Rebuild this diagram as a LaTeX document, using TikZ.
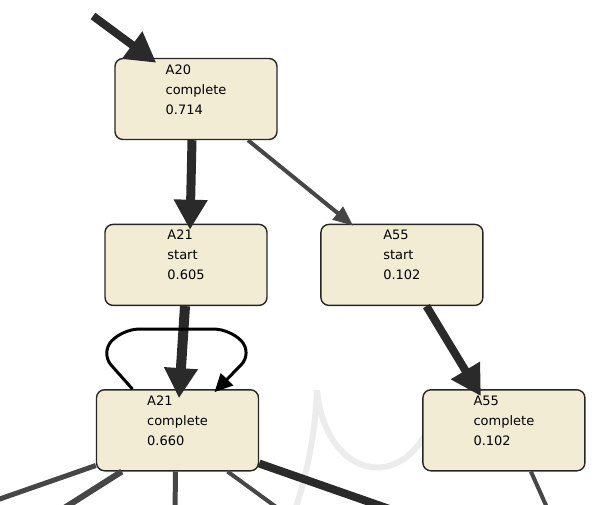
\documentclass[tikz,border=0pt]{standalone}
\usepackage{fontspec}
\newfontfamily\statefont{DejaVu Sans}
\usetikzlibrary{arrows.meta, positioning, calc}
\definecolor{statefill}{RGB}{243,236,213}
\definecolor{edgedark}{RGB}{42,42,42}
\definecolor{edgemid}{RGB}{70,70,70}
\definecolor{markgray}{RGB}{236,236,236}

\begin{document}
\begin{tikzpicture}[
    x=1pt, y=-1pt,
    node distance=83pt,
    state/.style={rectangle, rounded corners=8pt, draw=black!85, line width=1.4pt, fill=statefill, minimum width=162pt, minimum height=81pt, inner xsep=4pt, inner ysep=6.5pt, text height=49pt, text depth=19pt, align=left, text=black, font=\statefont\fontsize{13}{20}\selectfont},
    heavy/.style={-{Triangle[length=30pt, width=32pt]}, line width=9pt, draw=edgedark},
    light/.style={-{Triangle[length=20pt, width=16pt]}, line width=4pt, draw=edgemid},
    loopline/.style={-{Triangle[length=18pt, width=17pt]}, line width=3pt, draw=black, rounded corners=16pt},
    outline/.style={draw=edgemid}
]
    \useasboundingbox (0,0) rectangle (595,504);
    \clip (0,0) rectangle (595,504);

    % faint watermark in the background
    \draw[markgray, line width=6pt] (317,390) .. controls (315,440) and (305,480) .. (295,510);
    \draw[markgray, line width=6pt] (317,390) .. controls (325,480) and (410,500) .. (438,405);

    \node[state] (a20) at (196,99) {A20\\complete\\0.714};
    \node[state, below=83.5pt of a20, xshift=-10pt] (a21s) {A21\\start\\0.605};
    \node[state, right=52.5pt of a21s] (a55s) {A55\\start\\0.102};
    \node[state, below=83pt of a21s, xshift=-8.5pt] (a21c) {A21\\complete\\0.660};
    \node[state, right=163pt of a21c] (a55c) {A55\\complete\\0.102};

    \coordinate (entry) at (93,16);
    \coordinate (out1) at (-6,501);
    \coordinate (out2) at (58,512);
    \coordinate (out3) at (175,512);
    \coordinate (out4) at (283,512);
    \coordinate (out5) at (398,512);
    \coordinate (out6) at (549,512);

    \draw[heavy, line width=8pt] (entry) -- ($(a20.north west)+(42,5)$);
    \draw[heavy] ($(a20.south)+(-4,0)$) -- ($(a21s.north)+(4,6)$);
    \draw[light] ($(a20.south)+(52,0)$) -- ($(a55s.north west)+(33,2)$);
    \draw[heavy, line width=10pt] ($(a21s.south)+(-1,0)$) -- ($(a21c.north)+(1.5,9)$);
    \draw[loopline] ($(a21c.north)+(-45,0)$) -- ++(-32,-36) -- ++(22,-24) -- ++(108,0) -- ++(22,24) -- ($(a21c.north)+(37,3)$);
    \draw[heavy, line width=8pt] ($(a55s.south)+(24.5,0)$) -- ($(a55c.north)+(-23,7)$);

    \draw[outline, line width=5pt] ($(a21c.south west)+(0,-6)$) -- (out1);
    \draw[outline, line width=6pt] ($(a21c.south west)+(26,0)$) -- (out2);
    \draw[outline, line width=5pt] ($(a21c.south)+(-2,0)$) -- (out3);
    \draw[outline, line width=4pt] ($(a21c.south)+(50,0)$) -- (out4);
    \draw[outline, line width=8pt, draw=edgedark] ($(a21c.south east)+(0,-8)$) -- (out5);
    \draw[outline, line width=4pt] ($(a55c.south)+(27,0)$) -- (out6);
\end{tikzpicture}
\end{document}
